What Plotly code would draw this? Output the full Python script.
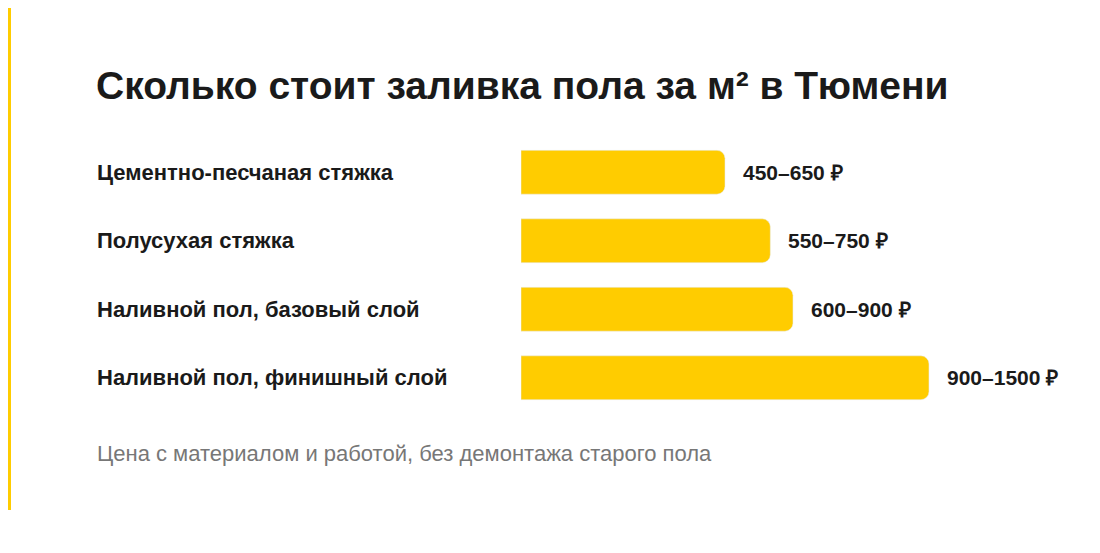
import plotly.graph_objects as go

categories = ["Цементно-песчаная стяжка", "Полусухая стяжка", "Наливной пол, базовый слой", "Наливной пол, финишный слой"]
low_values = [450, 550, 600, 900]
price_labels = ["450–650 ₽", "550–750 ₽", "600–900 ₽", "900–1500 ₽"]
title = "Сколько стоит заливка пола за м² в Тюмени"
note = "Цена с материалом и работой, без демонтажа старого пола"

W, H = 1100, 553
OFF = 8
L, R, T, B = 521 - OFF, 100, 138 - OFF, 149
pw = W - L - R
ph = H - T - B
yellow = "#FFCC00"
font = "Liberation Sans, Arial, sans-serif"

def px_x(p): return (p - OFF - L) / pw
def px_y(p): return 1 - (p - OFF - T) / ph

ys = list(range(len(categories)))
fig = go.Figure(go.Bar(x=low_values, y=ys, orientation="h", marker_color=yellow,
                       width=0.64, hoverinfo="skip"))
ann = []
for y, c, lab, v in zip(ys, categories, price_labels, low_values):
    ann.append(dict(x=px_x(95), xref="paper", y=y, yref="y", text=c, showarrow=False,
                    xanchor="left", font=dict(size=22, color="#1a1a1a", family=font, weight="bold")))
    ann.append(dict(x=v, xref="x", y=y, yref="y", text=lab, showarrow=False, xanchor="left",
                    xshift=16, font=dict(size=21, color="#1a1a1a", family=font, weight="bold")))
ann.append(dict(x=px_x(94), xref="paper", y=px_y(85), yref="paper", text=title, showarrow=False,
                xanchor="left", yanchor="middle", font=dict(size=39, color="#1a1a1a", family=font, weight="bold")))
ann.append(dict(x=px_x(95), xref="paper", y=px_y(453), yref="paper", text=note, showarrow=False,
                xanchor="left", yanchor="middle", font=dict(size=22, color="#777777", family=font)))

fig.update_layout(
    width=W, height=H, margin=dict(l=L, r=R, t=T, b=B),
    paper_bgcolor="white", plot_bgcolor="white", barcornerradius=8,
    xaxis=dict(range=[0, pw / 0.4533], visible=False),
    yaxis=dict(range=[3.5, -0.5], visible=False),
    annotations=ann, showlegend=False,
    shapes=[dict(type="rect", xref="paper", yref="paper", x0=px_x(8), x1=px_x(11),
                 y0=px_y(8), y1=px_y(510), fillcolor=yellow, line_width=0, layer="above")],
)
fig.write_html("out.html")
